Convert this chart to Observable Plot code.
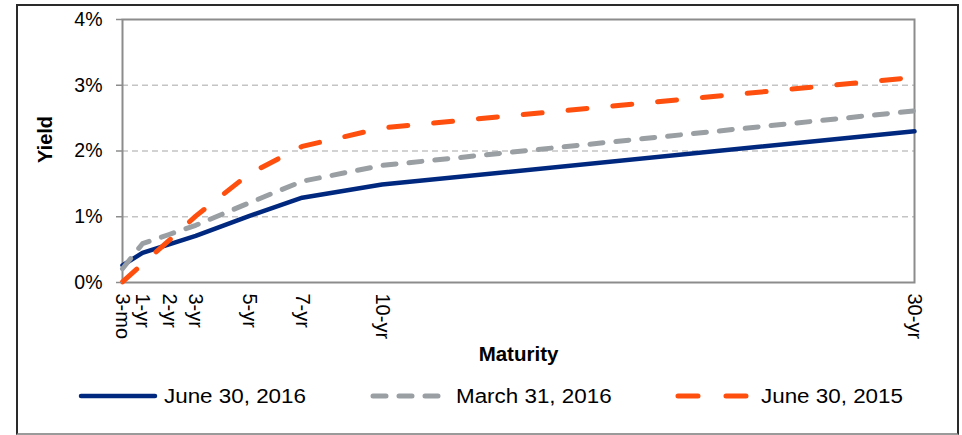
<!DOCTYPE html>
<html>
<head>
<meta charset="utf-8">
<script src="https://cdn.jsdelivr.net/npm/d3@7"></script>
<script src="https://cdn.jsdelivr.net/npm/@observablehq/plot@0.6"></script>
<style>
  html, body { margin: 0; padding: 0; background: #fff; }
  body { width: 962px; height: 435px; position: relative; overflow: hidden; font-family: "Liberation Sans", Arial, sans-serif; }
  #border { position: absolute; left: 16px; top: 4px; width: 939px; height: 427px; border: 2px solid #2a2a2a; border-bottom-color: #9a9a9a; box-sizing: content-box; }
  #chart { position: absolute; left: 0; top: 0; }
  .leg { position: absolute; top: 383px; height: 26px; display: flex; align-items: center; }
  .leg span { font-size: 20px; color: #000; display: inline-block; transform: scaleX(1.12); transform-origin: left center; white-space: nowrap; }
  .leg svg { display: block; margin-right: 6px; }
</style>
</head>
<body>
<div id="border"></div>
<div id="chart"></div>
<div id="legend"></div>
<script>
// Data
const maturityYears = [0.25, 1, 2, 3, 5, 7, 10, 30];
const maturityLabels = ["3-mo", "1-yr", "2-yr", "3-yr", "5-yr", "7-yr", "10-yr", "30-yr"];
const june2016 = [0.26, 0.45, 0.58, 0.71, 1.01, 1.29, 1.49, 2.30];
const march2016 = [0.21, 0.59, 0.73, 0.87, 1.21, 1.54, 1.78, 2.61];
const june2015 = [0.01, 0.28, 0.64, 1.01, 1.65, 2.07, 2.35, 3.12];
const seriesNames = ["June 30, 2016", "March 31, 2016", "June 30, 2015"];
const yTicks = [0, 1, 2, 3, 4];

const seriesValues = [june2016, march2016, june2015];
const seriesStyles = [
  { stroke: "#00287f", strokeWidth: 4.5, dash: null },
  { stroke: "#9a9fa3", strokeWidth: 5, dash: "13,13" },
  { stroke: "#ff4f0f", strokeWidth: 5, dash: "19,26" }
];

const rows = seriesValues.map((vals, i) =>
  maturityYears.map((m, j) => ({ series: seriesNames[i], m, y: vals[j] }))
);

const labelOf = new Map(maturityYears.map((m, i) => [m, maturityLabels[i]]));

const plot = Plot.plot({
  width: 962,
  height: 372,
  marginLeft: 122,
  marginRight: 48,
  marginTop: 19,
  marginBottom: 90,
  style: { fontFamily: "'Liberation Sans', Arial, sans-serif", fontSize: "19px", background: "transparent", color: "#000", overflow: "visible" },
  x: { type: "linear", domain: [0.25, 30] },
  y: { domain: [0, 4] },
  marks: [
    Plot.gridY([1, 2, 3], { stroke: "#c4c4c4", strokeOpacity: 1, strokeWidth: 1.4, strokeDasharray: "6,4" }),
    Plot.frame({ stroke: "#8c8c8c", strokeWidth: 2 }),
    ...rows.map((data, i) => Plot.line(data, {
      x: "m", y: "y",
      stroke: seriesStyles[i].stroke,
      strokeWidth: seriesStyles[i].strokeWidth,
      strokeDasharray: seriesStyles[i].dash,
      strokeLinecap: "round",
      strokeLinejoin: "round"
    })),
    Plot.axisY({ ticks: yTicks, tickFormat: d => d + "%", tickSize: 6, tickPadding: 14, fontSize: 19.5, label: null, stroke: "#8c8c8c", strokeWidth: 1.5 }),
    Plot.axisX({ ticks: maturityYears, tickFormat: d => labelOf.get(d), tickRotate: 90, tickSize: 0, tickPadding: 11, fontSize: 20, label: null }),
    Plot.text(["Yield"], { frameAnchor: "left", dx: -77, dy: 12, rotate: -90, fontWeight: "bold", fontSize: 20, fill: "#000" }),
    Plot.text(["Maturity"], { frameAnchor: "bottom", dx: 0, dy: 78, fontWeight: "bold", fontSize: 20.5, fill: "#000" })
  ]
});
document.getElementById("chart").appendChild(plot);

// Legend (HTML)
const legendLeft = [78, 370, 675];
const legend = document.getElementById("legend");
seriesNames.forEach((name, i) => {
  const st = seriesStyles[i];
  const div = document.createElement("div");
  div.className = "leg";
  div.style.left = legendLeft[i] + "px";
  const ns = "http://www.w3.org/2000/svg";
  const svg = document.createElementNS(ns, "svg");
  svg.setAttribute("width", 80);
  svg.setAttribute("height", 12);
  const ln = document.createElementNS(ns, "line");
  ln.setAttribute("x1", 3); ln.setAttribute("x2", 77);
  ln.setAttribute("y1", 6); ln.setAttribute("y2", 6);
  ln.setAttribute("stroke", st.stroke);
  ln.setAttribute("stroke-width", st.strokeWidth);
  ln.setAttribute("stroke-linecap", "round");
  if (st.dash) ln.setAttribute("stroke-dasharray", i === 1 ? "13,13" : "20,28");
  svg.appendChild(ln);
  div.appendChild(svg);
  const sp = document.createElement("span");
  sp.textContent = name;
  div.appendChild(sp);
  legend.appendChild(div);
});
</script>
</body>
</html>
